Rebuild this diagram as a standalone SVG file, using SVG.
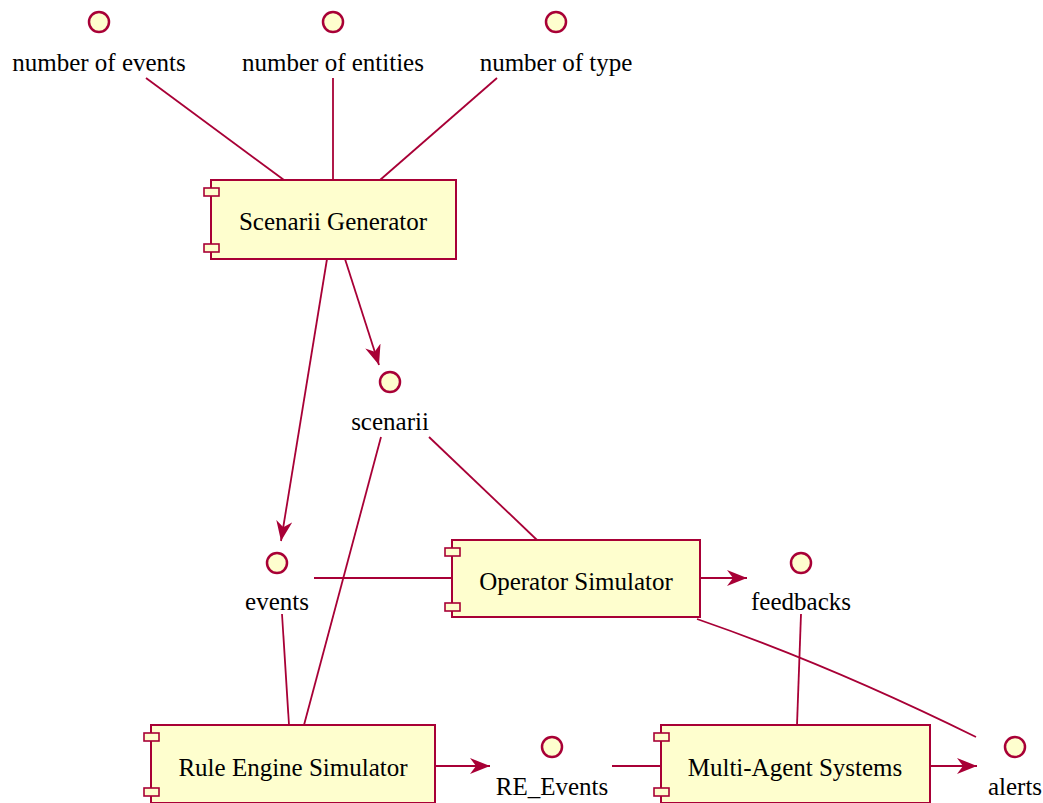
<svg xmlns="http://www.w3.org/2000/svg" width="1043" height="803" viewBox="0 0 1043 803">
  <defs>
    <style>
      .comp { fill: #FEFECE; stroke: #A80036; stroke-width: 2; }
      .port { fill: #FEFECE; stroke: #A80036; stroke-width: 1.6; }
      .iface { fill: #FEFECE; stroke: #A80036; stroke-width: 2.5; }
      .link { fill: none; stroke: #A80036; stroke-width: 1.8; }
      .txt { font-family: 'Liberation Serif', 'Tinos', 'Times New Roman', 'DejaVu Serif', serif; font-size: 25px; fill: #000; text-anchor: middle; }
    </style>
    <marker id="arrow" markerUnits="userSpaceOnUse" markerWidth="22" markerHeight="18" refX="20" refY="8" orient="auto">
      <path d="M0,0 L20,8 L0,16 L6,8 Z" fill="#A80036"/>
    </marker>
  </defs>
  <rect width="1043" height="803" fill="#FFFFFF"/>

  <!-- connectors -->
  <g id="connectors">
    <line class="link" x1="146" y1="78" x2="284" y2="180"/>
    <line class="link" x1="333" y1="78" x2="333" y2="180"/>
    <line class="link" x1="497" y1="78" x2="380" y2="180"/>
    <line class="link" x1="327" y1="259" x2="281" y2="541" marker-end="url(#arrow)"/>
    <line class="link" x1="345" y1="259" x2="379" y2="365" marker-end="url(#arrow)"/>
    <line class="link" x1="429" y1="437" x2="537" y2="540"/>
    <line class="link" x1="381" y1="437" x2="304" y2="725"/>
    <line class="link" x1="314" y1="578" x2="452" y2="578"/>
    <line class="link" x1="282" y1="614" x2="289" y2="725"/>
    <line class="link" x1="700" y1="578" x2="747" y2="578" marker-end="url(#arrow)"/>
    <path class="link" d="M697,619 Q830,665 976,737"/>
    <line class="link" x1="801" y1="614" x2="797" y2="725"/>
    <line class="link" x1="435" y1="766" x2="490" y2="766" marker-end="url(#arrow)"/>
    <line class="link" x1="612" y1="766" x2="661" y2="766"/>
    <line class="link" x1="930" y1="766" x2="977" y2="766" marker-end="url(#arrow)"/>
  </g>

  <!-- interfaces -->
  <g id="if-number-of-events">
    <circle class="iface" cx="99" cy="22" r="10"/>
    <text class="txt" x="99" y="71">number of events</text>
  </g>
  <g id="if-number-of-entities">
    <circle class="iface" cx="333" cy="22" r="10"/>
    <text class="txt" x="333" y="71">number of entities</text>
  </g>
  <g id="if-number-of-type">
    <circle class="iface" cx="556" cy="22" r="10"/>
    <text class="txt" x="556" y="71">number of type</text>
  </g>
  <g id="if-scenarii">
    <circle class="iface" cx="390" cy="382" r="10"/>
    <text class="txt" x="390" y="430">scenarii</text>
  </g>
  <g id="if-events">
    <circle class="iface" cx="277" cy="563" r="10"/>
    <text class="txt" x="277" y="610">events</text>
  </g>
  <g id="if-feedbacks">
    <circle class="iface" cx="801" cy="563" r="10"/>
    <text class="txt" x="801" y="610">feedbacks</text>
  </g>
  <g id="if-re-events">
    <circle class="iface" cx="552" cy="747" r="10"/>
    <text class="txt" x="552" y="795">RE_Events</text>
  </g>
  <g id="if-alerts">
    <circle class="iface" cx="1015" cy="747" r="10"/>
    <text class="txt" x="1015" y="795">alerts</text>
  </g>

  <!-- components -->
  <g id="scenarii-generator">
    <rect class="comp" x="211" y="180" width="245" height="79"/>
    <rect class="port" x="204" y="188" width="15" height="8"/>
    <rect class="port" x="204" y="244" width="15" height="8"/>
    <text class="txt" x="333" y="230">Scenarii Generator</text>
  </g>
  <g id="operator-simulator">
    <rect class="comp" x="452" y="540" width="248" height="77"/>
    <rect class="port" x="445" y="548" width="15" height="8"/>
    <rect class="port" x="445" y="603" width="15" height="8"/>
    <text class="txt" x="576" y="590">Operator Simulator</text>
  </g>
  <g id="rule-engine-simulator">
    <rect class="comp" x="151" y="725" width="284" height="78"/>
    <rect class="port" x="144" y="733" width="15" height="8"/>
    <rect class="port" x="144" y="788" width="15" height="8"/>
    <text class="txt" x="293" y="776">Rule Engine Simulator</text>
  </g>
  <g id="multi-agent-systems">
    <rect class="comp" x="661" y="725" width="269" height="78"/>
    <rect class="port" x="654" y="733" width="15" height="8"/>
    <rect class="port" x="654" y="788" width="15" height="8"/>
    <text class="txt" x="795" y="776">Multi-Agent Systems</text>
  </g>
</svg>
